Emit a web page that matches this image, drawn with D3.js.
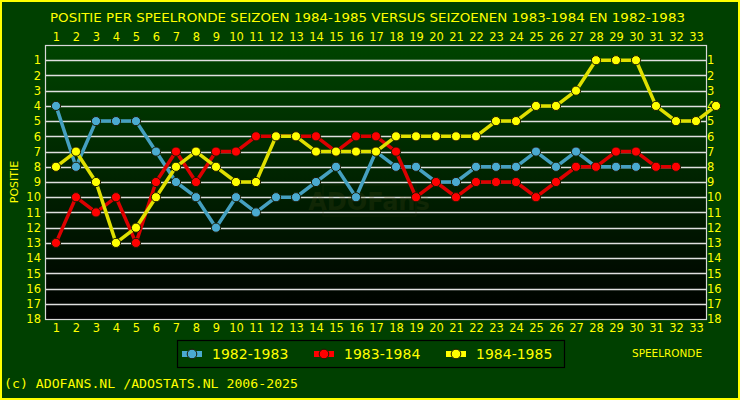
<!DOCTYPE html>
<html><head><meta charset="utf-8">
<script src="https://cdn.jsdelivr.net/npm/d3@7"></script>
<style>html,body{margin:0;padding:0;background:#004000;}svg{display:block;}</style>
</head><body>
<script>
const title = "POSITIE PER SPEELRONDE SEIZOEN 1984-1985 VERSUS SEIZOENEN 1983-1984 EN 1982-1983";
const rounds = d3.range(1, 34);
const positions = d3.range(1, 19);
const seriesNames = ["1982-1983", "1983-1984", "1984-1985"];
const seriesColors = ["#4aaad0", "#ff0000", "#ffff00"];
const lineColors = ["#45a0c0", "#dd0000", "#e0e000"];
const s1982 = [4,8,5,5,5,7,9,10,12,10,11,10,10,9,8,10,7,8,8,9,9,8,8,8,7,8,7,8,8,8];
const s1983 = [13,10,11,10,13,9,7,9,7,7,6,6,6,6,7,6,6,7,10,9,10,9,9,9,10,9,8,8,7,7,8,8];
const s1984 = [8,7,9,13,12,10,8,7,8,9,9,6,6,7,7,7,7,6,6,6,6,6,5,5,4,4,3,1,1,1,4,5,5,4];
const seriesValues = [s1982, s1983, s1984];

const W = 740, H = 400;
const svg = d3.select("body").append("svg").attr("width", W).attr("height", H);
const defs = svg.append("defs");
const grad = defs.append("linearGradient").attr("id","bg").attr("x1",0).attr("y1",0).attr("x2",0).attr("y2",1);
grad.append("stop").attr("offset","0%").attr("stop-color","#004400");
grad.append("stop").attr("offset","100%").attr("stop-color","#000000");

svg.append("rect").attr("x",0).attr("y",0).attr("width",W).attr("height",H).attr("fill","#004000");
svg.append("rect").attr("x",1).attr("y",1).attr("width",W-2).attr("height",H-2)
  .attr("fill","none").attr("stroke","#ffff00").attr("stroke-width",2);

const L = 45, R = 706, T = 45, B = 319;
const x = d3.scaleLinear().domain([0.5, 33.5]).range([L + 1, R]);
const y = d3.scaleLinear().domain([0, 18]).range([T, B]);

svg.append("rect").attr("x",L).attr("y",T).attr("width",R-L).attr("height",B-T).attr("fill","url(#bg)");

// gridlines
svg.append("g").selectAll("line").data(positions.slice(0,17)).join("line")
  .attr("x1",L).attr("x2",R).attr("y1",d=>Math.round(y(d))+0.5).attr("y2",d=>Math.round(y(d))+0.5)
  .attr("stroke","#e0e0e0").attr("stroke-width",1.5);
svg.append("rect").attr("x",L+0.5).attr("y",T+0.5).attr("width",R-L).attr("height",B-T)
  .attr("fill","none").attr("stroke","#d8d8d8").attr("stroke-width",1.2);

// watermark
const wm = svg.append("g").attr("opacity",0.22);
wm.append("rect").attr("x",323).attr("y",185).attr("width",93).attr("height",31)
  .attr("fill","none").attr("stroke","#3a3a10").attr("stroke-width",1);
wm.append("text").attr("x",369).attr("y",210).attr("text-anchor","middle")
  .attr("font-family","DejaVu Sans").attr("font-weight","bold").attr("font-size",24)
  .attr("fill","#4a4a18").text("ADOFans");

const fontFam = "DejaVu Sans";
// axes
function styleAxis(g){
  g.select(".domain").remove();
  g.selectAll("line").remove();
  g.selectAll("text").attr("fill","#ffff00").attr("font-family",fontFam).attr("font-size",11.5);
}
svg.append("g").attr("transform",`translate(0,${T-4})`)
  .call(d3.axisTop(x).tickValues(rounds).tickFormat(d3.format("d")).tickSize(0).tickPadding(0))
  .call(styleAxis);
svg.append("g").attr("transform",`translate(0,${B+2})`)
  .call(d3.axisBottom(x).tickValues(rounds).tickFormat(d3.format("d")).tickSize(0).tickPadding(3))
  .call(styleAxis);
svg.append("g").attr("transform",`translate(${L-4},0)`)
  .call(d3.axisLeft(y).tickValues(positions).tickFormat(d3.format("d")).tickSize(0).tickPadding(0))
  .call(styleAxis);
svg.append("g").attr("transform",`translate(${R+1},0)`)
  .call(d3.axisRight(y).tickValues(positions).tickFormat(d3.format("d")).tickSize(0).tickPadding(0))
  .call(styleAxis);

// title
svg.append("text").attr("x",50).attr("y",22).attr("fill","#ffff00")
  .attr("font-family",fontFam).attr("font-size",13)
  .attr("textLength",635).attr("lengthAdjust","spacingAndGlyphs").text(title);

svg.append("text").attr("transform","translate(18,182) rotate(-90)").attr("text-anchor","middle")
  .attr("fill","#ffff00").attr("font-family",fontFam).attr("font-size",11).text("POSITIE");
svg.append("text").attr("x",667).attr("y",357).attr("text-anchor","middle")
  .attr("fill","#ffff00").attr("font-family",fontFam).attr("font-size",11)
  .attr("textLength",70).attr("lengthAdjust","spacingAndGlyphs").text("SPEELRONDE");

// series
const line = d3.line().x((d,i)=>x(i+1)).y(d=>y(d));
seriesValues.forEach((vals, k) => {
  const g = svg.append("g");
  g.append("path").datum(vals).attr("d",line).attr("fill","none")
    .attr("stroke",lineColors[k]).attr("stroke-width",3.5).attr("stroke-linejoin","round");
  g.selectAll("circle").data(vals).join("circle")
    .attr("cx",(d,i)=>x(i+1)).attr("cy",d=>y(d)).attr("r",4.6)
    .attr("fill",seriesColors[k]).attr("stroke","#1a1a00").attr("stroke-width",1);
});

// legend
svg.append("rect").attr("x",177.5).attr("y",340.5).attr("width",387).attr("height",27)
  .attr("fill","none").attr("stroke","#000000").attr("stroke-width",1.2);
const legX = [182, 314, 446];
seriesNames.forEach((name,k)=>{
  const g = svg.append("g").attr("transform",`translate(${legX[k]},354)`);
  g.append("line").attr("x1",0).attr("x2",20).attr("y1",0).attr("y2",0)
    .attr("stroke",seriesColors[k]).attr("stroke-width",6);
  g.append("circle").attr("cx",10).attr("cy",0).attr("r",4.8).attr("fill",seriesColors[k])
    .attr("stroke","#1a1a00").attr("stroke-width",1);
  g.append("text").attr("x",30).attr("y",5).attr("fill","#ffff00")
    .attr("font-family",fontFam).attr("font-size",14).text(name);
});

svg.append("text").attr("x",4).attr("y",388).attr("fill","#ffff00")
  .attr("font-family","DejaVu Sans Mono").attr("font-size",13)
  .attr("textLength",294).attr("lengthAdjust","spacingAndGlyphs")
  .text("(c) ADOFANS.NL /ADOSTATS.NL 2006-2025");
</script>
</body></html>
